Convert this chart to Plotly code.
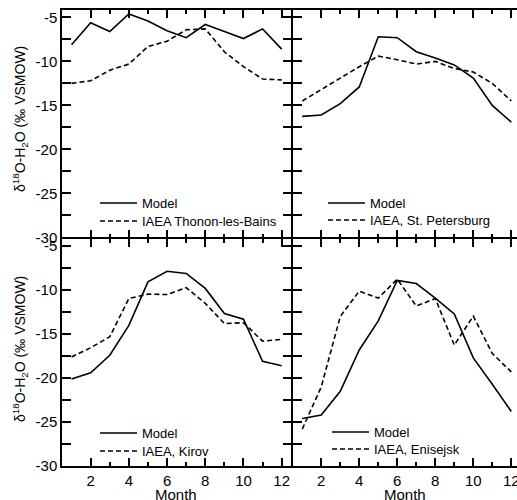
import plotly.graph_objects as go

# ---------------- data ----------------
months = [1, 2, 3, 4, 5, 6, 7, 8, 9, 10, 11, 12]

model_thonon = [-8.1, -5.6, -6.6, -4.6, -5.4, -6.5, -7.3, -5.8, -6.6, -7.4, -6.3, -8.6]
iaea_thonon = [-12.5, -12.2, -11.0, -10.3, -8.3, -7.7, -6.4, -6.3, -8.9, -10.6, -12.0, -12.1]

model_petersburg = [-16.25, -16.1, -14.8, -12.9, -7.2, -7.3, -8.9, -9.6, -10.4, -11.9, -15.0, -16.9]
iaea_petersburg = [-14.5, -13.2, -11.9, -10.6, -9.4, -9.8, -10.3, -10.0, -10.8, -11.2, -12.5, -14.5]

model_kirov = [-20.1, -19.4, -17.4, -14.0, -9.05, -7.85, -8.1, -9.8, -12.65, -13.3, -18.1, -18.6]
iaea_kirov = [-17.6, -16.55, -15.3, -10.95, -10.45, -10.5, -9.7, -11.5, -13.8, -13.7, -15.8, -15.6]

model_enisejsk = [-24.6, -24.2, -21.5, -16.8, -13.5, -8.9, -9.25, -10.9, -12.7, -17.7, -20.7, -23.8]
iaea_enisejsk = [-25.8, -21.0, -13.0, -10.1, -10.9, -8.75, -11.8, -10.95, -16.25, -12.95, -17.2, -19.3]

station_labels = ["IAEA Thonon-les-Bains", "IAEA, St. Petersburg", "IAEA, Kirov", "IAEA, Enisejsk"]
model_label = "Model"

x_tick_vals = [2, 4, 6, 8, 10, 12]
x_tick_text = ["2", "4", "6", "8", "10", "12"]
x_minor_vals = [3, 5, 7, 9, 11]
y_tick_vals = [-30, -25, -20, -15, -10, -5]
y_tick_text = ["-30", "-25", "-20", "-15", "-10", "-5"]
y_minor_vals = [-27.5, -22.5, -17.5, -12.5, -7.5]

y_title = "δ<sup>18</sup>O-H<sub>2</sub>O (‰ VSMOW)"
x_title = "Month"

# ---------------- layout geometry ----------------
W, H = 517, 500
L, R, T, B = 62, 0, 10, 34
PW, PH = W - L - R, H - T - B
LW = 1.5


def fx(px):
    return (px - L) / PW


def fy(py):
    return 1 - (py - T) / PH


FONT = "Liberation Sans, Arial, Helvetica, sans-serif"

panels = [
    (model_thonon, iaea_thonon, station_labels[0]),
    (model_petersburg, iaea_petersburg, station_labels[1]),
    (model_kirov, iaea_kirov, station_labels[2]),
    (model_enisejsk, iaea_enisejsk, station_labels[3]),
]

# shared frame lines sit at x=292 and y=238 (axis lines are drawn outside the domain)
XM, YM = 292, 238
left_dom = [fx(62), fx(XM - LW / 2)]
right_dom = [fx(XM + LW / 2), 1.0]
top_dom = [fy(YM - LW / 2), 1.0]
bot_dom = [0.0, fy(YM + LW / 2)]
x_domains = [left_dom, right_dom, left_dom, right_dom]
y_domains = [top_dom, top_dom, bot_dom, bot_dom]
x_ranges = [[0.5, 12.5], [0.5, 12.3], [0.5, 12.5], [0.5, 12.3]]

# legend row anchors (pixel x of the legend's left edge, pixel y of the row centre)
legend_rows = [
    [(95, 203), (95, 221)],
    [(323, 203), (323, 220)],
    [(95, 433), (95, 451)],
    [(327, 432), (327, 449)],
]

fig = go.Figure()
layout = dict(
    width=W, height=H,
    margin=dict(l=L, r=R, t=T, b=B, autoexpand=False),
    paper_bgcolor="white", plot_bgcolor="white",
    font=dict(family=FONT, size=14, color="black"),
    showlegend=True,
)

annotations = []
leg_n = 0
for i, (mod, obs, lab) in enumerate(panels):
    k = "" if i == 0 else str(i + 1)
    series = [(mod, model_label, "solid"), (obs, lab, "5px,3px")]
    for j, (vals, name, dash) in enumerate(series):
        leg_n += 1
        leg = "legend" if leg_n == 1 else "legend" + str(leg_n)
        fig.add_trace(go.Scatter(x=months, y=vals, mode="lines", name=name,
                                 line=dict(color="black", width=1.6, dash=dash),
                                 xaxis="x" + k, yaxis="y" + k, legend=leg))
        lx, ly = legend_rows[i][j]
        layout[leg] = dict(
            x=fx(lx), y=fy(ly), xanchor="left", yanchor="middle",
            bgcolor="rgba(0,0,0,0)", borderwidth=0,
            font=dict(size=13, family=FONT, color="black"),
            itemwidth=37,
        )

    bottom = i >= 2
    left = i % 2 == 0
    right_panel = not left

    layout["xaxis" + k] = dict(
        domain=x_domains[i], range=x_ranges[i], anchor="y" + k,
        tickmode="array", tickvals=x_tick_vals, ticktext=x_tick_text,
        ticks="inside", ticklen=8, tickwidth=LW, tickcolor="black",
        minor=dict(tickmode="array", tickvals=x_minor_vals, ticks="inside",
                   ticklen=4, tickwidth=LW, tickcolor="black"),
        showline=True, linecolor="black", linewidth=LW, mirror="ticks",
        showgrid=False, zeroline=False, automargin=False,
        showticklabels=bottom, ticklabeloverflow="allow",
        tickfont=dict(size=15, family=FONT),
    )
    layout["yaxis" + k] = dict(
        domain=y_domains[i], range=[-30, -4.15], anchor="x" + k,
        tickmode="array", tickvals=y_tick_vals, ticktext=y_tick_text,
        ticks="inside", ticklen=9, tickwidth=LW, tickcolor="black",
        minor=dict(tickmode="array", tickvals=y_minor_vals, ticks="inside",
                   ticklen=9, tickwidth=LW, tickcolor="black"),
        showline=True, linecolor="black", linewidth=LW,
        mirror=False if right_panel else "ticks",
        showgrid=False, zeroline=False, automargin=False,
        showticklabels=left,
        tickfont=dict(size=15, family=FONT),
    )
    if left:
        annotations.append(dict(
            text=y_title, textangle=-90, showarrow=False,
            xref="paper", yref="paper", x=fx(20), y=fy(119 if i == 0 else 349),
            xanchor="center", yanchor="middle",
            font=dict(size=14, family=FONT, color="black")))
    if bottom:
        annotations.append(dict(
            text=x_title, showarrow=False,
            xref="paper", yref="paper", x=fx(176 if left else 405), y=fy(494),
            xanchor="center", yanchor="middle",
            font=dict(size=15, family=FONT, color="black")))

layout["annotations"] = annotations
fig.update_layout(**layout)
fig.write_html("out.html", config={"displayModeBar": False},
               post_script="document.body.style.margin='0px';")
